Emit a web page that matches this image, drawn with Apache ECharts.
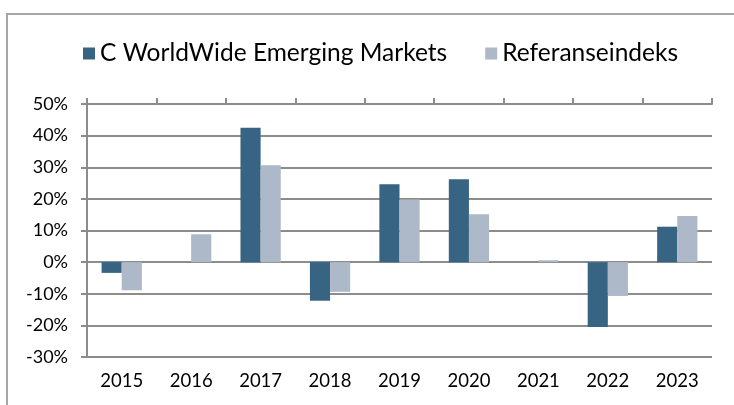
<!DOCTYPE html>
<html lang="en">
<head>
    <meta charset="UTF-8">
    <script src="https://cdn.jsdelivr.net/npm/echarts@6/dist/echarts.min.js"></script>
    <title>C WorldWide Emerging Markets</title>
    <style>
        html, body { margin: 0; padding: 0; background: #fff; }
        #frame { position: absolute; left: 6px; top: 13px; width: 740px; height: 400px;
                 border-left: 2px solid #a6a6a6; border-top: 2px solid #a6a6a6; }
        #chart { position: absolute; left: 0; top: 0; width: 734px; height: 405px; }
    </style>
</head>
<body>
<div id="frame"></div>
<div id="chart"></div>
<script type="text/javascript">
    var years = ['2015', '2016', '2017', '2018', '2019', '2020', '2021', '2022', '2023'];
    var fund = [-3.4, 0, 42.5, -12.2, 24.6, 26.2, 0, -20.5, 11.2];
    var index = [-8.9, 8.8, 30.6, -9.4, 19.8, 15.1, 0.6, -10.7, 14.6];
    var fundName = 'C WorldWide Emerging Markets';
    var indexName = 'Referanseindeks';

    var myChart = echarts.init(document.getElementById('chart'));
    var font = 'Lato, "Open Sans", sans-serif';
    var option = {
        animation: false,
        textStyle: { fontFamily: font },
        legend: {
            data: [fundName, indexName],
            left: 78,
            top: 36,
            itemWidth: 12,
            itemHeight: 12,
            itemGap: 38,
            icon: 'rect',
            textStyle: { fontSize: 24.5, color: '#000', fontFamily: font }
        },
        grid: { left: 87, right: 22, top: 104, bottom: 48 },
        xAxis: [
            {
                type: 'category',
                data: years,
                position: 'bottom',
                axisLine: { show: false },
                axisTick: { show: false },
                axisLabel: { fontSize: 18.5, color: '#000', margin: 15 }
            },
            {
                type: 'category',
                data: years,
                axisLine: { onZero: true, lineStyle: { color: '#8c8c8c', width: 2 } },
                axisTick: { show: true, length: 6, lineStyle: { color: '#8c8c8c', width: 2 } },
                axisLabel: { show: false }
            }
        ],
        yAxis: {
            type: 'value',
            min: -30,
            max: 50,
            interval: 10,
            axisLine: { show: true, lineStyle: { color: '#8c8c8c', width: 2 } },
            axisTick: { show: true, length: 6, lineStyle: { color: '#8c8c8c', width: 2 } },
            splitLine: { lineStyle: { color: '#8c8c8c', width: 2 } },
            axisLabel: { fontSize: 18, color: '#000', margin: 19, formatter: '{value}%' }
        },
        series: [
            {
                name: fundName,
                type: 'bar',
                data: fund,
                barGap: '0%',
                barCategoryGap: '42%',
                itemStyle: { color: '#376482' }
            },
            {
                name: indexName,
                type: 'bar',
                data: index,
                itemStyle: { color: '#adb9c8' }
            }
        ]
    };
    myChart.setOption(option);
</script>
</body>
</html>
